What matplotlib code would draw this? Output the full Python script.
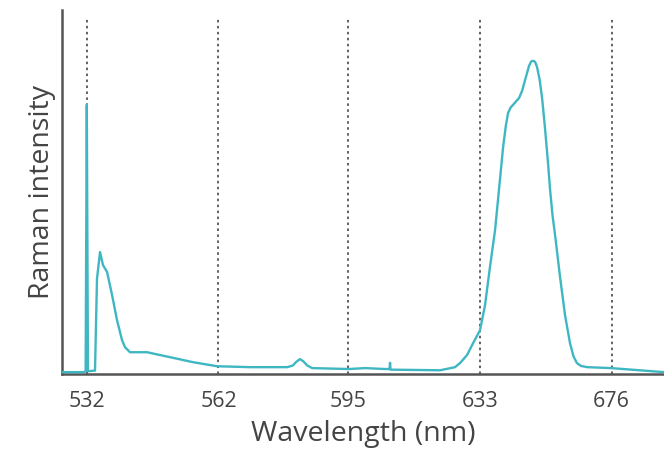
import numpy as np
import matplotlib
matplotlib.use("Agg")
import matplotlib.pyplot as plt

plt.rcParams['font.family'] = ['Open Sans', 'DejaVu Sans']

# Spectrum (wavelength in nm, intensity in arbitrary units)
wavelength = [526.65, 531.35, 531.70, 531.95, 532.20, 533.73, 534.16, 534.82, 535.47,
              536.36, 537.46, 538.56, 539.67, 540.34, 541.45, 545.29, 550.57, 555.93,
              561.64, 569.70, 579.04, 580.50, 581.40, 582.38, 583.30, 584.20, 585.51,
              595.34, 599.70,
              605.25, 606.50, 606.65, 606.80, 621.04, 625.47, 626.96, 629.09, 630.91,
              633.04, 634.56, 636.09, 637.67, 638.57, 640.17, 641.00, 641.73, 642.50,
              643.29, 645.20, 646.20,
              647.12, 648.38, 649.00, 649.35, 649.90, 650.32, 650.96, 651.80, 652.57,
              653.50, 654.54, 655.18, 656.00, 656.86,
              658.50, 660.15, 661.81, 663.00, 664.14, 665.50, 667.56, 675.81, 694.83]
intensity = [0.0, 0.0, 0.3, 86.0, 0.3, 0.5, 30.0, 38.6, 34.4,
             32.2, 24.8, 16.7, 10.3, 8.0, 6.4, 6.4, 4.8, 3.2,
             1.9, 1.6, 1.6, 2.1, 3.3, 4.2, 3.4, 2.2, 1.3,
             1.0, 1.3,
             1.0, 1.0, 3.0, 0.8, 0.6, 1.6, 2.9, 5.5, 9.3,
             13.5, 21.5, 33.8, 45.7, 55.3, 72.3, 79.0, 83.3, 85.0,
             85.9, 88.1, 90.5,
             93.9, 98.4, 99.7, 100.0, 100.0, 99.7, 98.1, 94.0, 88.4,
             79.0, 67.2, 59.0, 50.5, 44.0,
             30.5, 18.3, 9.3, 5.0, 2.9, 2.0, 1.6, 1.3, 0.0]

tick_wavelengths = [532, 562, 595, 633, 676]
tick_labels = ['532', '562', '595', '633', '676']

LASER = 532.0


def fwd(lam):
    lam = np.asarray(lam, dtype=float)
    with np.errstate(divide='ignore', invalid='ignore'):
        return 1e7 / LASER - 1e7 / lam


def inv(s):
    s = np.asarray(s, dtype=float)
    with np.errstate(divide='ignore', invalid='ignore'):
        return 1e7 / (1e7 / LASER - s)


fig = plt.figure(figsize=(6.64, 4.61), dpi=100)
ax = fig.add_axes([0.0934, 0.1887, 0.9066, 0.7897])
ax.set_xlim(526.65, 694.8)
ax.set_ylim(-0.6, 116.4)
ax.set_xscale('function', functions=(fwd, inv))
ax.set_xlim(526.65, 694.8)

for t in tick_wavelengths:
    ax.axvline(t, ymin=0, ymax=0.98, color='#555555', lw=1.3,
               linestyle=(0, (1.4, 1.9)), zorder=1)

ax.plot(wavelength, intensity, color='#3fb7c3', lw=1.7, zorder=3,
        solid_joinstyle='round')

ax.set_xlim(526.65, 694.8)
ax.set_ylim(-0.6, 116.4)

ax.set_xticks(tick_wavelengths)
ax.set_xticklabels(tick_labels)
ax.set_xticks([], minor=True)
ax.set_yticks([])
ax.tick_params(axis='x', length=0, pad=12, labelsize=15.5, labelcolor='#444444')

for side in ['top', 'right']:
    ax.spines[side].set_visible(False)
for side in ['left', 'bottom']:
    ax.spines[side].set_color('#555555')
    ax.spines[side].set_linewidth(1.8)

ax.set_xlabel('Wavelength (nm)', fontsize=20.5, color='#444444', labelpad=6)
ax.set_ylabel('Raman intensity', fontsize=20.5, color='#444444', labelpad=4)

fig.savefig('out.png', dpi=100)
